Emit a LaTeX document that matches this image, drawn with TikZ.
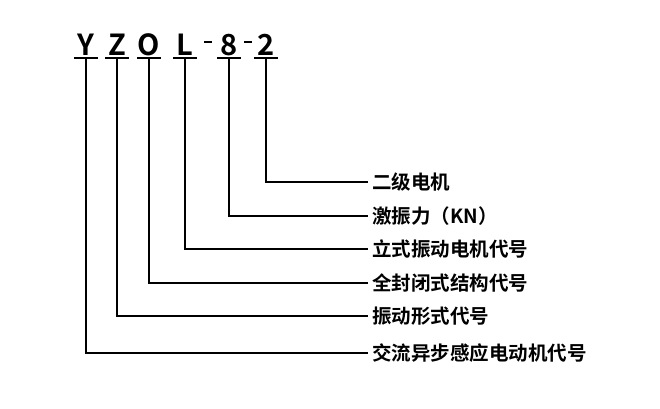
\documentclass[tikz,border=0pt]{standalone}
\usepackage{fontspec}
\setmainfont{Noto Sans CJK SC}[BoldFont={* Bold}]
\usetikzlibrary{positioning}
\tikzset{
  letter/.style={font=\bfseries\fontsize{29}{29}\selectfont, inner sep=0pt, anchor=base},
  label/.style={font=\bfseries\fontsize{19.5}{19.5}\selectfont, anchor=west, inner sep=0pt},
  lead/.style={line width=1.3pt}
}
\begin{document}
\begin{tikzpicture}[x=1pt,y=-1pt]
    \useasboundingbox (0,0) rectangle (660,408);
    % model code letters
    \node[letter] (Y) at (86,55) {Y};
    \node[letter] (Z) at (117,55) {Z};
    \node[letter] (O) at (149,55) {O};
    \node[letter] (L) at (185,55) {L};
    \node[letter] (E) at (229,55) {8};
    \node[letter] (T) at (266,55) {2};
    \draw[line width=2.2pt] (204,42) -- (212,42);
    \draw[line width=2.2pt] (244,42) -- (252,42);
    % leaders from each letter to its label
    \foreach \n/\x/\y/\t in {T/266/182/二级电机, E/229/216/激振力（KN）, L/185/249/立式振动电机代号,
        O/149/283/全封闭式结构代号, Z/117/316/振动形式代号, Y/86/353/交流异步感应电动机代号}{
        \draw[line width=2pt] (\x-12,58) -- (\x+12,58);
        \coordinate (\n top) at (\x,58);
        \coordinate (\n bend) at (\x,\y);
        \coordinate (\n end) at (368,\y);
        \node[label] (\n lab) at (372,\y) {\t};
        \draw[lead] (\n top) -- (\n bend) -- (\n end);
    }
\end{tikzpicture}
\end{document}
